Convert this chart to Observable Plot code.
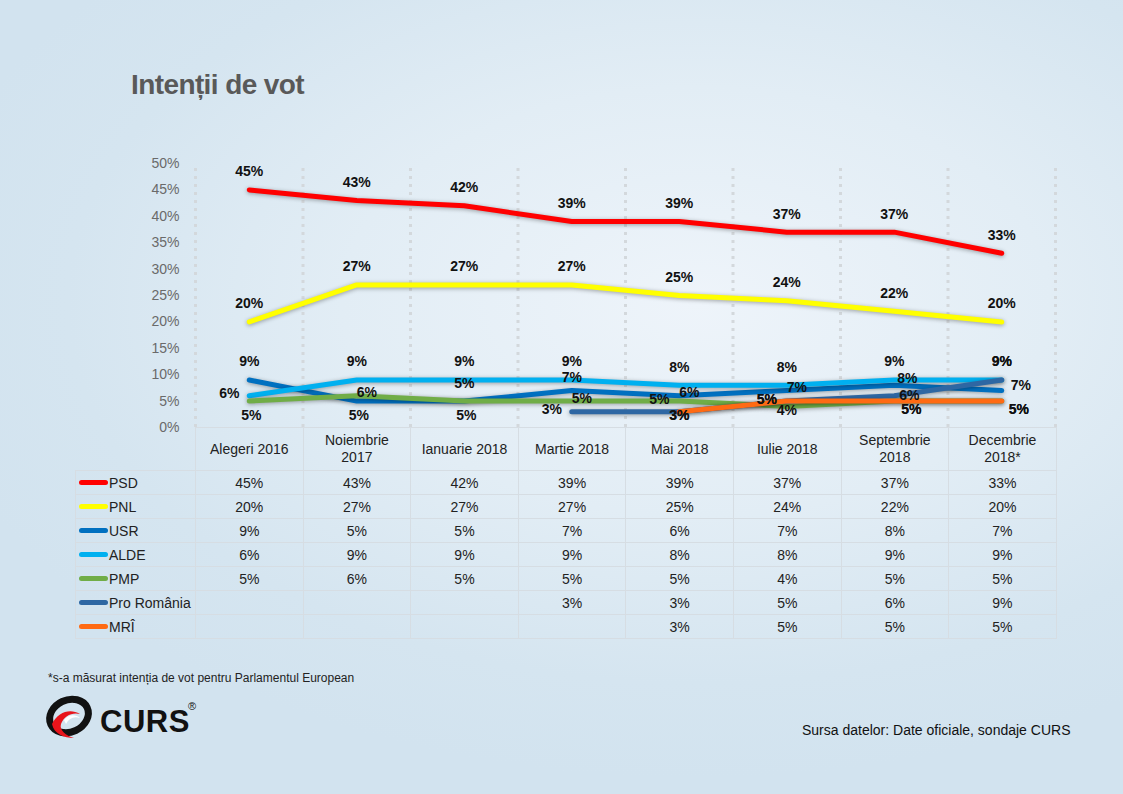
<!DOCTYPE html>
<html>
<head>
<meta charset="utf-8">
<script src="https://cdn.jsdelivr.net/npm/d3@7"></script>
<script src="https://cdn.jsdelivr.net/npm/@observablehq/plot@0.6"></script>
<style>
  html, body { margin: 0; padding: 0; }
  body { width: 1123px; height: 794px; overflow: hidden; font-family: "Liberation Sans", Arial, sans-serif; }
  #page { position: relative; width: 1123px; height: 794px; overflow: hidden;
    background: radial-gradient(ellipse 70% 60% at 62% 38%, #eef4fa 0%, #e2edf5 45%, #d5e5f0 80%, #d2e3ef 100%); }
  #title { position: absolute; left: 131px; top: 69px; font-size: 28px; font-weight: bold; color: #595959; letter-spacing: -0.6px; }
  #chart { position: absolute; left: 0; top: 143px; }
  #table { position: absolute; left: 75px; top: 427px; }
  table { border-collapse: collapse; table-layout: fixed; font-size: 14px; color: #222; }
  td { border: 1px solid #d6dde3; padding: 0; text-align: center; height: 23px; line-height: 16px; }
  tr.head td { height: 42px; white-space: pre-line; line-height: 17px; }
  tr.head td.corner { border: none; border-right: 1px solid #d6dde3; border-bottom: 1px solid #d6dde3; }
  td.lab { text-align: left; white-space: nowrap; }
  .sw { display: inline-block; width: 29px; height: 5px; border-radius: 3px; margin-left: 3px; margin-right: 1px; vertical-align: middle; position: relative; top: -1px; }
  #foot { position: absolute; left: 48px; top: 671px; font-size: 12px; color: #222; }
  #source { position: absolute; left: 802px; top: 722px; font-size: 14px; color: #111; }
  #logo { position: absolute; left: 44px; top: 694px; }
</style>
</head>
<body>
<div id="page">
  <div id="title">Intenții de vot</div>
  <div id="chart"></div>
  <div id="table"></div>
  <div id="foot">*s-a măsurat intenția de vot pentru Parlamentul European</div>
  <div id="logo">
    <svg width="160" height="48" viewBox="0 0 160 48">
      <ellipse cx="25" cy="22" rx="20" ry="16" fill="none" stroke="#111" stroke-width="7" transform="rotate(-25 25 22)"/>
      <path d="M8 30 C 14 18, 26 14, 36 20 C 28 18, 20 22, 17 30 C 15 36, 22 42, 30 44 C 20 44, 10 40, 8 30 Z" fill="#e8141b"/>
      <path d="M20 26 C 24 20, 32 20, 36 24 C 30 22, 25 24, 22 30 Z" fill="#fff"/>
      <text x="56" y="38" font-family="Liberation Sans, Arial" font-weight="bold" font-size="31" fill="#111" letter-spacing="0.5">CURS</text>
      <text x="144" y="16" font-family="Liberation Sans, Arial" font-size="11" fill="#111">®</text>
    </svg>
  </div>
  <div id="source">Sursa datelor: Date oficiale, sondaje CURS</div>
</div>
<script>
// ---- data ----
const categories = ["Alegeri 2016", "Noiembrie\n2017", "Ianuarie 2018", "Martie 2018", "Mai 2018", "Iulie 2018", "Septembrie\n2018", "Decembrie\n2018*"];
const seriesNames = ["PSD", "PNL", "USR", "ALDE", "PMP", "Pro România", "MRÎ"];
const seriesColors = ["#ff0000", "#ffff00", "#0070c0", "#00b0f0", "#70ad47", "#2e67a3", "#ff6a13"];
const psd = [45, 43, 42, 39, 39, 37, 37, 33];
const pnl = [20, 27, 27, 27, 25, 24, 22, 20];
const usr = [9, 5, 5, 7, 6, 7, 8, 7];
const alde = [6, 9, 9, 9, 8, 8, 9, 9];
const pmp = [5, 6, 5, 5, 5, 4, 5, 5];
const proRomania = [null, null, null, 3, 3, 5, 6, 9];
const mri = [null, null, null, null, 3, 5, 5, 5];
const yTicks = [0, 5, 10, 15, 20, 25, 30, 35, 40, 45, 50];

// label placement codes (layout only)
const labelPlacement = {
  "PSD": ["t", "t", "t", "t", "t", "t", "t", "t"],
  "PNL": ["t", "t", "t", "t", "t", "t", "t", "t"],
  "USR": ["t", "b", "b", "m", "c", "c", "cu", "r"],
  "ALDE": ["l", "t", "t", "t", "t", "t", "t", "t"],
  "PMP": ["b", "c", "t", "c", "l", "o", "br", "br"],
  "Pro România": [null, null, null, "l", "o", "l", "cd", "t"],
  "MRÎ": [null, null, null, null, "o", "l", "br", "br"]
};
const placementOffsets = {
  t: [0, -18], m: [0, -13], b: [2, 14], l: [-20, -2], r: [19, -5], c: [10, -3],
  cu: [13, -7], cd: [15, 0], o: [0, 4], br: [17, 8]
};

const seriesValues = [psd, pnl, usr, alde, pmp, proRomania, mri];
const rows = [];
seriesNames.forEach((s, si) => {
  seriesValues[si].forEach((v, i) => {
    if (v != null) rows.push({series: s, i, value: v, code: labelPlacement[s][i]});
  });
});

const labelMarks = Object.entries(placementOffsets).map(([code, [dx, dy]]) =>
  Plot.text(rows.filter(d => d.code === code), {
    x: "i", y: "value", text: d => d.value + "%", dx, dy,
    fontWeight: "bold", fontSize: 14, fill: "#111"
  })
);

const chart = Plot.plot({
  width: 1123,
  height: 290,
  marginLeft: 195,
  marginRight: 68,
  marginTop: 20,
  marginBottom: 6,
  style: {background: "transparent", fontFamily: "Liberation Sans, Arial, sans-serif", overflow: "visible"},
  x: {domain: [-0.5, categories.length - 0.5], axis: null},
  y: {domain: [0, 50], ticks: yTicks, tickFormat: d => d + "%", tickSize: 0, tickPadding: 16, label: null},
  color: {domain: seriesNames, range: seriesColors},
  marks: [
    Plot.ruleX(d3.range(categories.length + 1).map(i => i - 0.5), {y1: 0, y2: 50, stroke: "#d3d8dc", strokeWidth: 3, strokeDasharray: "3,5"}),
    Plot.axisY({ticks: yTicks, tickFormat: d => d + "%", tickSize: 0, tickPadding: 16, fontSize: 14, color: "#6a6a6a", label: null}),
    Plot.line(rows, {x: "i", y: "value", z: "series", stroke: "series", strokeWidth: 5, strokeLinecap: "round", strokeLinejoin: "round", curve: "linear"}),
    ...labelMarks
  ]
});
d3.select(chart).selectAll("g[aria-label=line] path").style("filter", "drop-shadow(0px 1px 2px rgba(0,0,0,0.35))");
d3.select(chart).selectAll("g[aria-label='y-axis tick label'] text").attr("fill", "#6a6a6a");
document.getElementById("chart").appendChild(chart);

// ---- table ----
const tbl = d3.select("#table").append("table").style("width", "981px");
const cg = tbl.append("colgroup");
cg.append("col").style("width", "120px");
categories.forEach(() => cg.append("col").style("width", "107.6px"));
const head = tbl.append("tr").attr("class", "head");
head.append("td").attr("class", "corner");
categories.forEach(c => head.append("td").text(c));
seriesNames.forEach((s, si) => {
  const tr = tbl.append("tr");
  const lab = tr.append("td").attr("class", "lab");
  lab.append("span").attr("class", "sw").style("background", seriesColors[si]);
  lab.append("span").text(s);
  seriesValues[si].forEach(v => tr.append("td").text(v == null ? "" : v + "%"));
});
</script>
</body>
</html>
